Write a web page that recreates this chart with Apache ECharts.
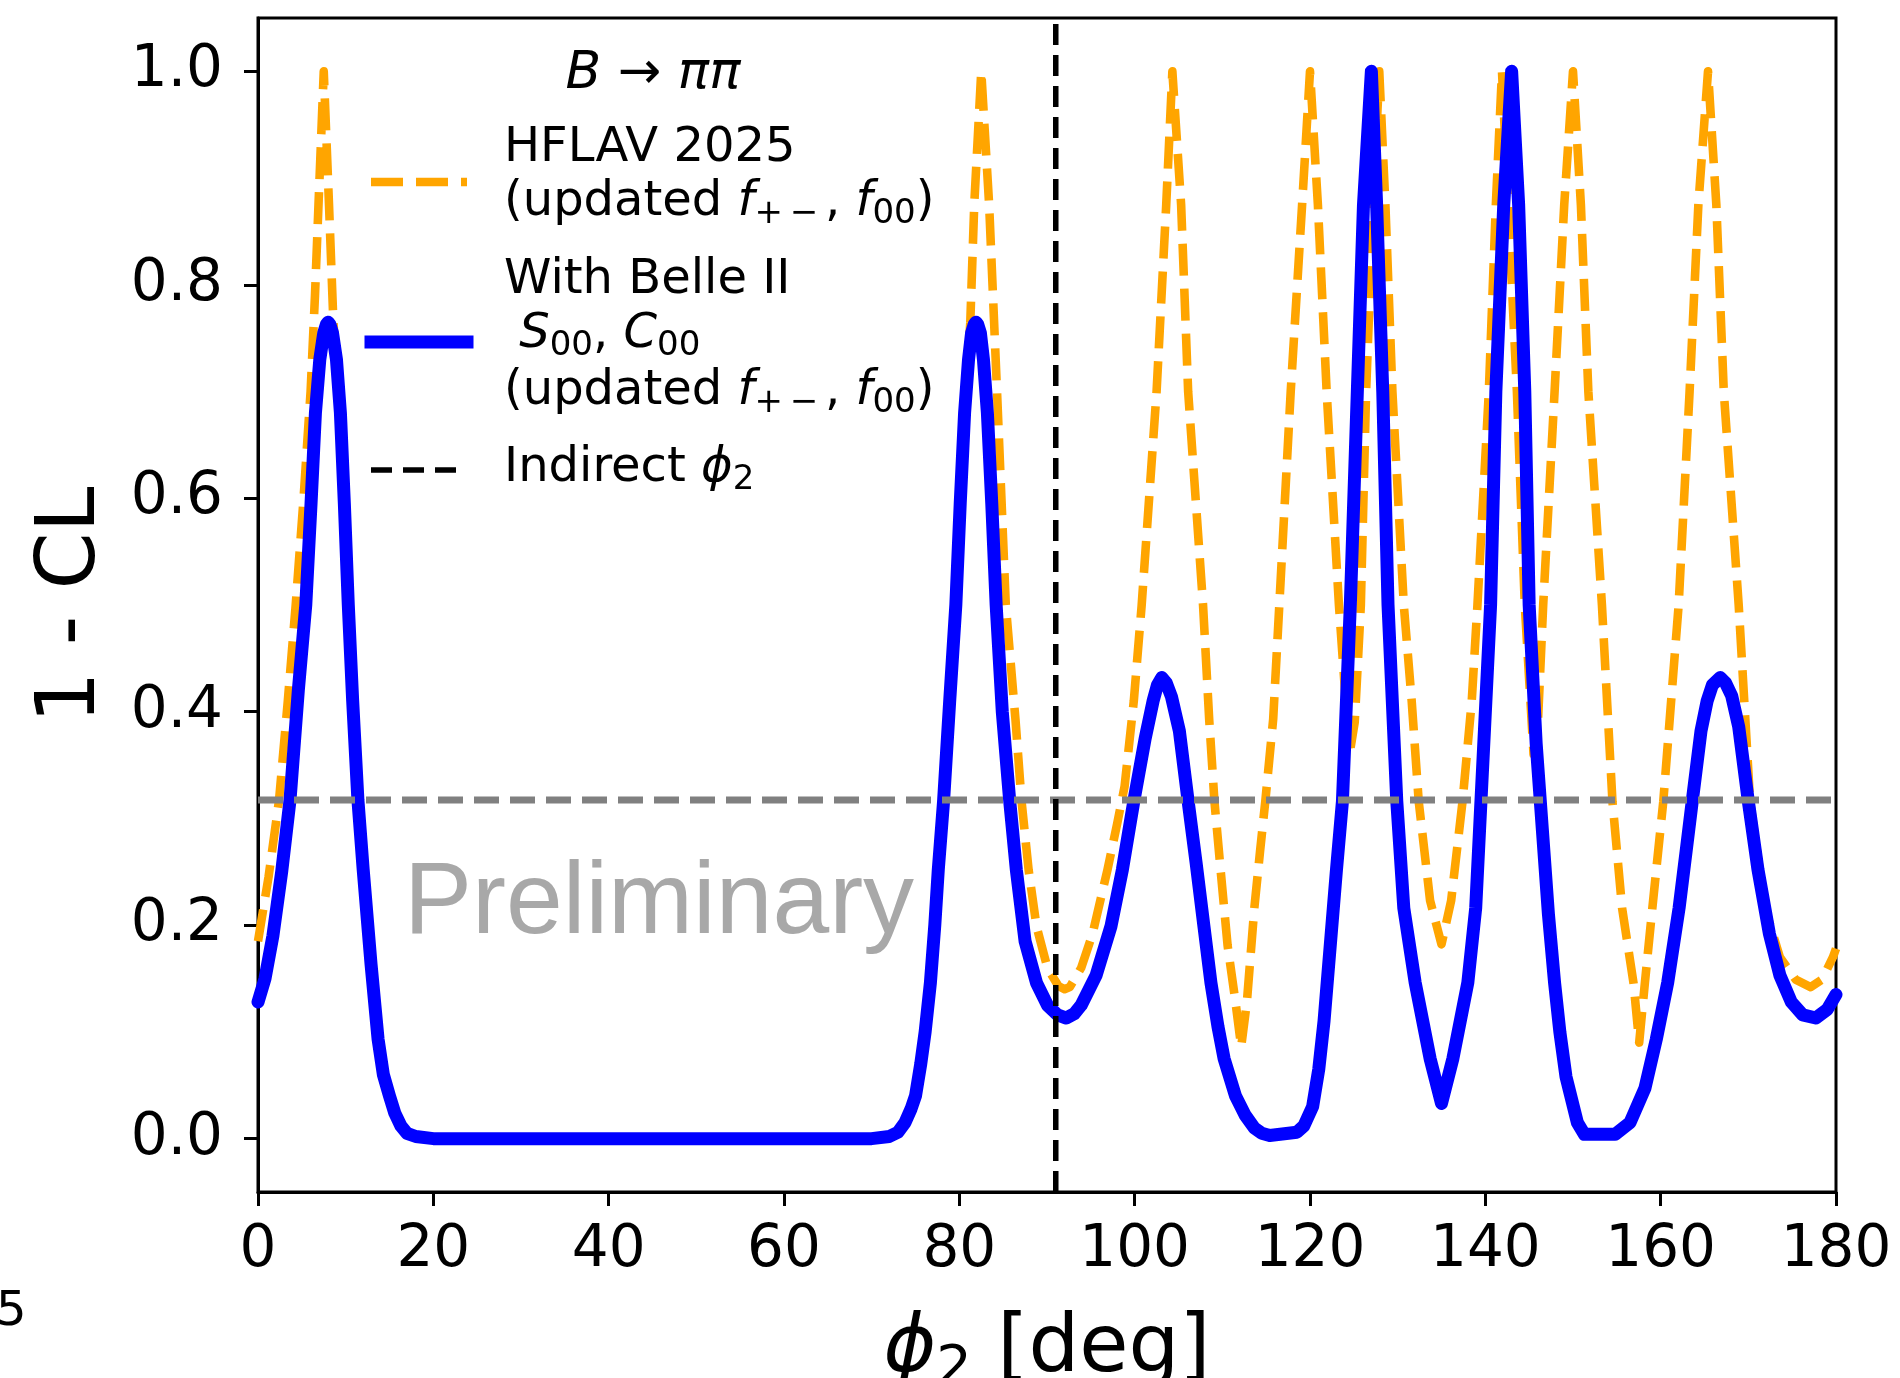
<!DOCTYPE html>
<html>
<head>
<meta charset="utf-8">
<script src="https://cdn.jsdelivr.net/npm/echarts@6/dist/echarts.min.js"></script>
<style>
html,body{margin:0;padding:0;background:#fff;}
#chart{width:1900px;height:1378px;}
</style>
</head>
<body>
<div id="chart"></div>
<script>
// ---------------- data ----------------
const xTicks = [0, 20, 40, 60, 80, 100, 120, 140, 160, 180];
const yTicks = [0.0, 0.2, 0.4, 0.6, 0.8, 1.0];

// HFLAV 2025 (updated f+-, f00): [phi2 (deg), 1-CL]
const hflavPoints = [
  [0,0.185],[1.2,0.245],[2.4,0.317],[3.4,0.41],[4.3,0.5],[5.2,0.6],[6.0,0.7],[6.5,0.79],[6.9,0.875],[7.5,1.0],
  [8.1,0.875],[8.6,0.765],[9.35,0.68],[9.8,0.595],[10.3,0.5],[10.8,0.41],[11.4,0.317],[12.0,0.252],[12.9,0.163],[13.7,0.093],
  [14.3,0.06],[15.0,0.04],[15.6,0.024],[16.3,0.012],[17.0,0.005],[18.0,0.002],[20,0],[70,0],[72,0.002],[73,0.006],
  [73.8,0.015],[74.5,0.028],[75,0.04],[75.6,0.07],[76.1,0.1],[76.7,0.146],[77.2,0.2],[77.6,0.252],[78.2,0.316],
  [78.9,0.41],[79.6,0.5],[80.1,0.595],[80.6,0.68],[81.25,0.765],[81.7,0.875],[82.5,1.0],[83.4,0.875],[84.3,0.7],
  [85.3,0.5],[86.4,0.393],[87.1,0.316],[87.9,0.252],[88.8,0.199],[90.05,0.16],[91.3,0.143],[92.0,0.14],[92.6,0.142],
  [93.9,0.16],[95.2,0.192],[96.9,0.252],[98.0,0.295],[98.85,0.33],[99.9,0.41],[100.8,0.5],[102.5,0.7],[103.6,0.875],
  [104.3,1.0],[105.3,0.875],[106.1,0.7],[107.8,0.5],[108.5,0.393],[109.1,0.316],[109.8,0.252],[110.6,0.181],
  [111.5,0.128],[112.15,0.086],[112.8,0.128],[113.65,0.216],[114.3,0.269],[114.9,0.316],[115.8,0.393],[116.5,0.5],
  [117.8,0.7],[119.1,0.875],[120.0,1.0],[120.9,0.875],[121.9,0.7],[123.3,0.5],[124.5,0.36],[125.1,0.39],[125.8,0.5],
  [126.4,0.7],[127.2,0.875],[127.9,1.0],[128.6,0.875],[129.4,0.7],[130.7,0.5],[131.6,0.41],[132.4,0.316],
  [133.7,0.223],[135.0,0.182],[136.1,0.223],[137.4,0.316],[138.45,0.41],[139.1,0.5],[140.4,0.7],[141.2,0.875],
  [141.9,1.0],[142.6,0.875],[143.6,0.7],[144.5,0.5],[145.5,0.36],[146.0,0.39],[146.6,0.5],[147.9,0.7],[149.0,0.875],
  [150.0,1.0],[150.9,0.875],[151.75,0.7],[153.3,0.5],[154.5,0.316],[155.6,0.216],[156.9,0.146],[157.55,0.09],
  [158.2,0.146],[159.05,0.216],[160.3,0.316],[162.05,0.5],[163.3,0.7],[164.3,0.875],[165.4,1.0],[166.35,0.875],
  [167.2,0.7],[168.9,0.5],[170.2,0.316],[171.9,0.216],[173.6,0.17],[175.4,0.149],[177.1,0.142],[178.4,0.149],
  [179.65,0.17],[180,0.178]
];

// With Belle II S00, C00 (updated f+-, f00): [phi2 (deg), 1-CL]
const belle2Points = [
  [0,0.128],[0.8,0.15],[1.7,0.19],[2.7,0.25],[3.65,0.317],[4.6,0.42],[5.45,0.5],[6.05,0.595],[6.55,0.68],[7.05,0.73],
  [7.5,0.755],[7.8,0.763],[8.0,0.765],[8.2,0.763],[8.5,0.755],[8.95,0.73],[9.4,0.68],[9.85,0.595],[10.3,0.5],
  [10.8,0.41],[11.4,0.317],[12.0,0.252],[12.9,0.163],[13.7,0.093],[14.3,0.06],[15.0,0.04],[15.6,0.024],[16.3,0.012],
  [17.0,0.005],[18.0,0.002],[20,0],[70,0],[72,0.002],[73,0.006],[73.8,0.015],[74.5,0.028],[75,0.04],[75.6,0.07],
  [76.1,0.1],[76.7,0.146],[77.2,0.2],[77.6,0.252],[78.2,0.316],[78.9,0.41],[79.6,0.5],[80.1,0.595],[80.6,0.68],
  [81.05,0.73],[81.4,0.755],[81.7,0.763],[81.9,0.765],[82.1,0.763],[82.4,0.755],[82.75,0.73],[83.2,0.68],
  [83.7,0.595],[84.2,0.5],[84.9,0.4],[85.75,0.316],[86.5,0.252],[87.5,0.185],[88.8,0.146],[90.05,0.125],
  [91.2,0.116],[92.2,0.113],[93.1,0.117],[93.9,0.125],[95.6,0.153],[97.3,0.199],[98.6,0.252],[99.9,0.316],
  [101.2,0.375],[102.1,0.41],[102.6,0.425],[103.1,0.432],[103.6,0.427],[104.2,0.414],[105.1,0.382],[106.1,0.316],
  [107.0,0.259],[107.9,0.199],[108.7,0.146],[109.5,0.105],[110.2,0.075],[111.5,0.04],[112.6,0.022],[113.65,0.01],
  [114.5,0.005],[115.4,0.003],[118.5,0.006],[119.3,0.012],[120.3,0.03],[121.0,0.065],[121.6,0.11],[122.4,0.19],
  [123.0,0.25],[123.7,0.316],[124.6,0.5],[125.4,0.7],[126.1,0.875],[127.0,1.0],[127.6,0.875],[128.3,0.7],
  [128.9,0.5],[129.9,0.316],[130.7,0.216],[132.0,0.146],[133.7,0.075],[135.0,0.033],[136.3,0.075],[138.0,0.146],
  [138.9,0.216],[139.5,0.316],[140.6,0.5],[141.2,0.7],[142.1,0.875],[143.0,1.0],[143.8,0.875],[144.5,0.7],
  [145.0,0.5],[145.8,0.37],[146.5,0.29],[147.2,0.21],[147.9,0.146],[148.5,0.1],[149.2,0.058],[150.5,0.015],
  [151.3,0.004],[154.8,0.004],[156.5,0.015],[158.2,0.047],[159.5,0.093],[160.8,0.146],[162.1,0.216],[162.9,0.269],
  [163.6,0.316],[164.6,0.382],[165.3,0.41],[165.9,0.425],[166.8,0.432],[167.4,0.427],[168.1,0.415],[168.9,0.386],
  [170.0,0.316],[171.1,0.252],[172.4,0.192],[173.6,0.153],[174.9,0.128],[176.2,0.116],[177.7,0.113],[179.0,0.121],
  [180,0.135]
];

const oneSigmaLevel = [0.3173];   // horizontal reference (1 - CL at 1 sigma)
const indirectPhi2 = [91.0];      // indirect phi2 (deg)

// ---------------- chart ----------------
const FONT = 'DejaVu Sans';
const chart = echarts.init(document.getElementById('chart'), null, {renderer: 'canvas'});

function rich(size, subLH) {
  const sub = Math.round(size * 0.7);
  return {
    n: {fontFamily: FONT, fontSize: size, fill: '#000', lineHeight: Math.round(size * 1.18)},
    i: {fontFamily: FONT, fontSize: size, fontStyle: 'italic', fill: '#000', lineHeight: Math.round(size * 1.18)},
    s: {fontFamily: FONT, fontSize: sub, fill: '#000', verticalAlign: 'bottom', lineHeight: subLH || Math.round(sub * 0.95)}
  };
}
function txt(x, y, text, size, extra) {
  return Object.assign({
    type: 'text', x: x, y: y, z: 100,
    style: Object.assign({text: text, rich: rich(size, extra && extra.subLH), align: 'left', verticalAlign: 'middle',
      fontFamily: FONT, fontSize: size, fill: '#000'}, (extra && extra.style) || {})
  }, extra && extra.el || {});
}

const legendX = 504;
const LF = 48;
const graphic = [
  // title
  txt(653, 74, '{i|B}{n| → }{i|ππ}', 52, {style: {align: 'center'}}),
  // legend entries
  txt(legendX, 149, '{n|HFLAV 2025}', LF),
  txt(legendX, 203, '{n|(updated }{i|f}{s|+\u2009−\u2009}{n|, }{i|f}{s|00}{n|)}', LF),
  txt(legendX, 281, '{n|With Belle II}', LF),
  txt(legendX, 335, '{n| }{i|S}{s|00}{n|, }{i|C}{s|00}', LF),
  txt(legendX, 392, '{n|(updated }{i|f}{s|+\u2009−\u2009}{n|, }{i|f}{s|00}{n|)}', LF),
  txt(legendX, 469, '{n|Indirect }{i|ϕ}{s|2}', LF),
  // legend handles
  {type: 'line', z: 100, shape: {x1: 371, y1: 182, x2: 467, y2: 182},
   style: {stroke: '#ffa500', lineWidth: 8.6, lineDash: [32, 13], lineCap: 'butt'}},
  {type: 'line', z: 100, shape: {x1: 371, y1: 342, x2: 467, y2: 342},
   style: {stroke: '#0000ff', lineWidth: 13, lineCap: 'square'}},
  {type: 'line', z: 100, shape: {x1: 371, y1: 470, x2: 467, y2: 470},
   style: {stroke: '#000', lineWidth: 5.5, lineDash: [21, 11], lineCap: 'butt'}},
  // watermark
  {type: 'text', x: 404, y: 905, z: 100,
   style: {text: 'Preliminary', fontFamily: 'Liberation Sans', fontSize: 102, fill: '#a8a8a8',
     align: 'left', verticalAlign: 'middle'}},
  // axis titles
  txt(1047, 1350, '{i|ϕ}{s|2}{n| [deg]}', 80, {style: {align: 'center'}, subLH: 78}),
  {type: 'text', x: 73, y: 605, z: 100, rotation: Math.PI / 2,
   style: {text: '1 - CL', fontFamily: FONT, fontSize: 82, fill: '#000', align: 'center', verticalAlign: 'middle'}},
  // stray page fragment at bottom-left
  {type: 'text', x: -4, y: 1313, z: 100,
   style: {text: '5', fontFamily: FONT, fontSize: 48, fill: '#000', align: 'left', verticalAlign: 'middle'}}
];

const option = {
  animation: false,
  backgroundColor: '#ffffff',
  grid: {left: 258, top: 18, width: 1578, height: 1174, show: true, borderColor: '#000', borderWidth: 3,
    backgroundColor: 'transparent', containLabel: false, outerBoundsMode: 'none'},
  xAxis: {
    type: 'value', min: 0, max: 180, interval: 20,
    axisLine: {show: true, onZero: false, lineStyle: {color: '#000', width: 3}},
    axisTick: {show: true, inside: false, length: 14, lineStyle: {color: '#000', width: 3}},
    axisLabel: {show: true, fontFamily: FONT, fontSize: 58, color: '#000', margin: 30, showMinLabel: true, showMaxLabel: true,
      customValues: xTicks},
    splitLine: {show: false}
  },
  yAxis: {
    type: 'value', min: -0.05, max: 1.05,
    axisLine: {show: true, onZero: false, lineStyle: {color: '#000', width: 3}},
    axisTick: {show: true, inside: false, length: 14, lineStyle: {color: '#000', width: 3}, customValues: yTicks},
    axisLabel: {show: true, fontFamily: FONT, fontSize: 58, color: '#000', margin: 35, customValues: yTicks,
      formatter: function (v) { return Number(v).toFixed(1); }},
    splitLine: {show: false}
  },
  series: [
    {name: 'HFLAV 2025', type: 'line', z: 2, data: hflavPoints, showSymbol: false, symbol: 'none', clip: true,
     lineStyle: {color: '#ffa500', width: 8.6, type: [32, 13], cap: 'butt', join: 'round'}},
    {name: 'With Belle II', type: 'line', z: 3, data: belle2Points, showSymbol: false, symbol: 'none', clip: true,
     lineStyle: {color: '#0000ff', width: 13, cap: 'round', join: 'round'}},
    {name: '1 sigma', type: 'line', z: 4, showSymbol: false, symbol: 'none', clip: true,
     data: [[0, oneSigmaLevel[0]], [180, oneSigmaLevel[0]]],
     lineStyle: {color: '#808080', width: 7, type: [25, 11], cap: 'butt'}},
    {name: 'Indirect phi2', type: 'line', z: 5, showSymbol: false, symbol: 'none', clip: true,
     data: [[indirectPhi2[0], -0.05], [indirectPhi2[0], 1.05]],
     lineStyle: {color: '#000000', width: 5.5, type: [21, 10], cap: 'butt'}}
  ],
  graphic: graphic
};
chart.setOption(option);
</script>
</body>
</html>
